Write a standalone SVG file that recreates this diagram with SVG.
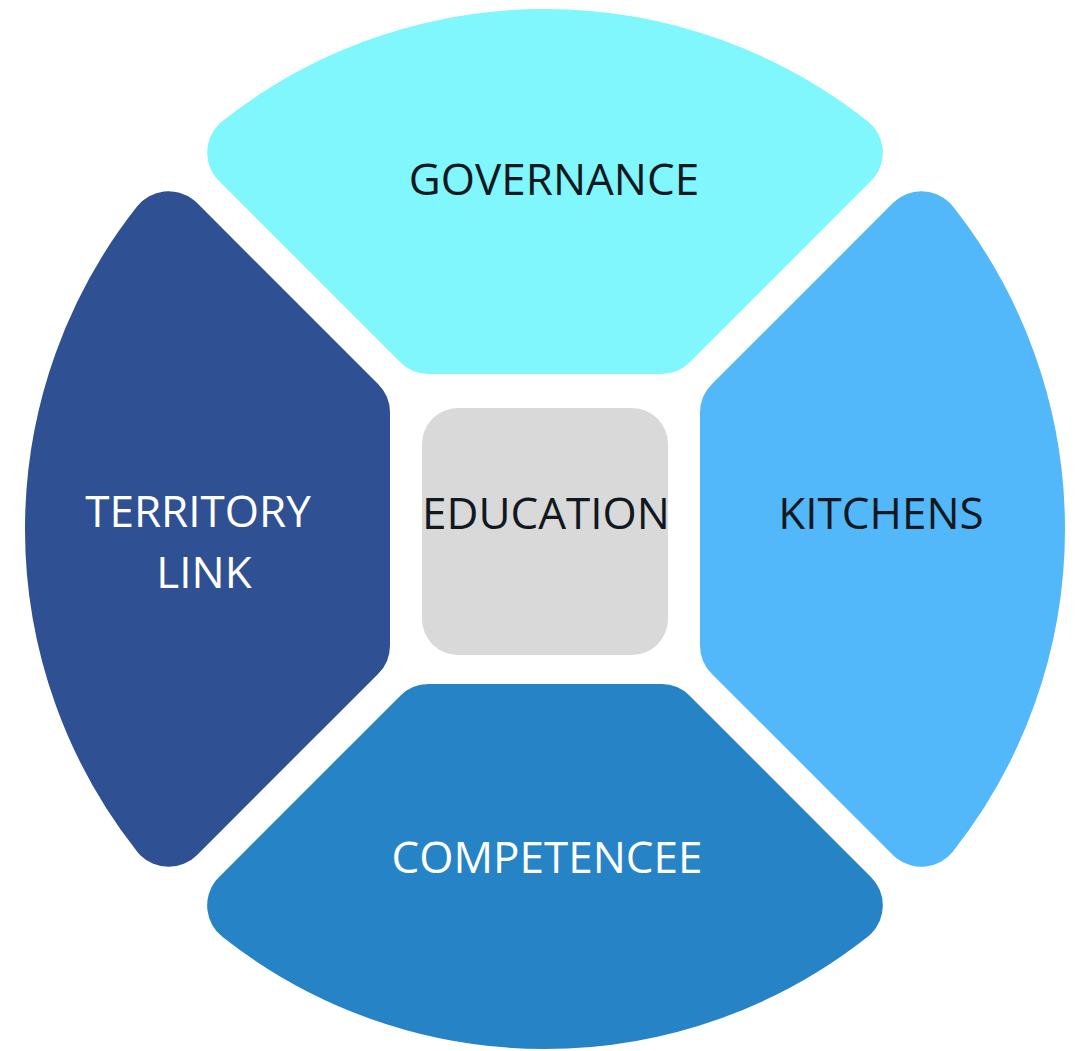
<svg xmlns="http://www.w3.org/2000/svg" xmlns:xlink="http://www.w3.org/1999/xlink" width="1081" height="1051" viewBox="0 0 1081 1051">
  <style>
    .petal { stroke-width: 80; stroke-linejoin: round; }
    .label { font-family: "Open Sans", "Noto Sans", "Liberation Sans", sans-serif; font-size: 44px; text-anchor: middle; }
    .dark { fill: #111820; }
    .light { fill: #ffffff; }
  </style>
  <defs>
    <!-- one quarter of the ring, inset by the corner radius (40); the wide round-joined stroke restores the size and rounds the corners -->
    <path id="petal" d="M428.57,334 L247.15,152.58 A480,480 0 0 1 842.85,152.58 L661.43,334 Z"/>
  </defs>
  <rect width="1081" height="1051" fill="#ffffff"/>

  <g id="governance">
    <use xlink:href="#petal" class="petal" fill="#80F6FD" stroke="#80F6FD"/>
    <text class="label dark" x="554" y="195">GOVERNANCE</text>
  </g>

  <g id="kitchens">
    <use xlink:href="#petal" class="petal" fill="#52B8FA" stroke="#52B8FA" transform="rotate(90 545 529)"/>
    <text class="label dark" x="881" y="529">KITCHENS</text>
  </g>

  <g id="competencee">
    <use xlink:href="#petal" class="petal" fill="#2683C6" stroke="#2683C6" transform="rotate(180 545 529)"/>
    <text class="label light" x="547" y="873">COMPETENCEE</text>
  </g>

  <g id="territory-link">
    <use xlink:href="#petal" class="petal" fill="#2F5093" stroke="#2F5093" transform="rotate(270 545 529)"/>
    <text class="label light" x="198" y="527">TERRITORY</text>
    <text class="label light" x="204" y="588">LINK</text>
  </g>

  <g id="education">
    <rect x="422" y="408" width="246" height="247" rx="36" fill="#D9D9D9"/>
    <text class="label dark" x="546" y="529">EDUCATION</text>
  </g>

  <g id="connectors"></g>
</svg>
